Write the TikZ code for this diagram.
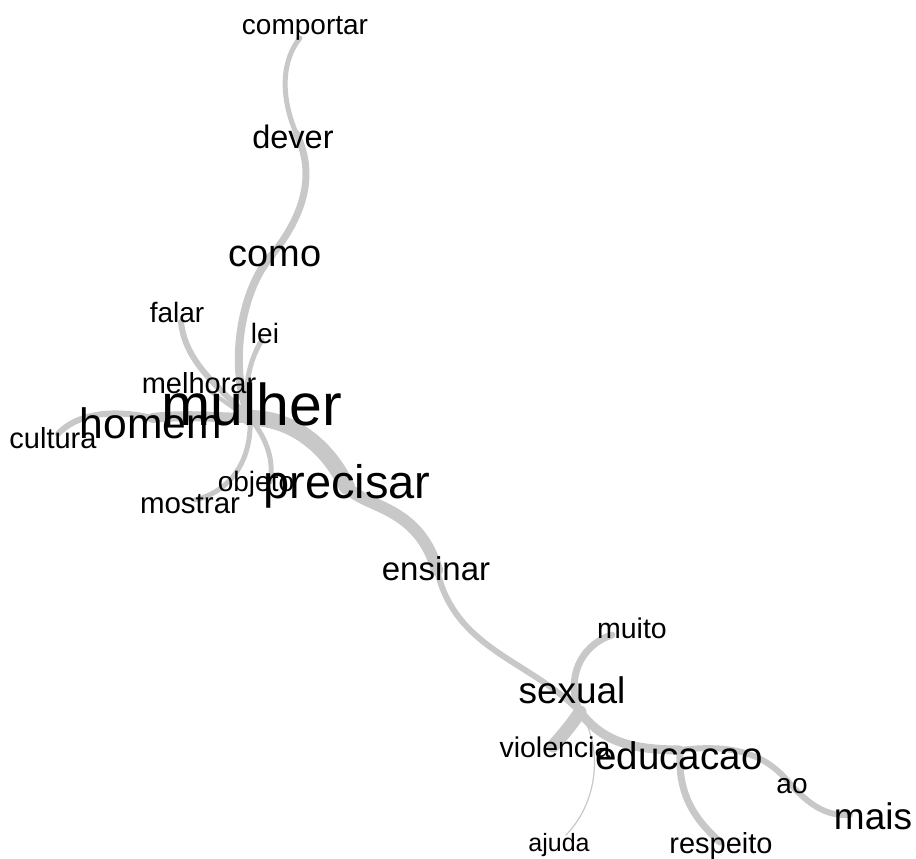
\documentclass[tikz,border=0pt]{standalone}
\usepackage{fontspec}
\setmainfont{Liberation Sans}
\definecolor{edgegray}{RGB}{200,200,200}
\tikzset{
  word/.style={font=\fontsize{#1}{#1}\selectfont, anchor=base, inner sep=0pt, text=black},
  link/.style={draw=edgegray, line width=#1pt, line cap=round}
}
\begin{document}
\begin{tikzpicture}[x=1pt,y=-1pt]
\useasboundingbox (0,0) rectangle (916,859);
% vertex points
\coordinate (c-comportar) at (300,38);
\coordinate (c-dever) at (296,133);
\coordinate (c-como) at (272,255);
\coordinate (c-falar) at (181,322);
\coordinate (c-lei) at (262,340);
\coordinate (c-melhorar) at (208,390);
\coordinate (c-mulher) at (250,418);
\coordinate (c-homem) at (152,418);
\coordinate (c-cultura) at (58,434);
\coordinate (c-objeto) at (270,482);
\coordinate (c-mostrar) at (195,500);
\coordinate (c-precisar) at (347,487);
\coordinate (c-ensinar) at (437,570);
\coordinate (c-muito) at (612,635);
\coordinate (c-sexual) at (580,712);
\coordinate (c-violencia) at (553,746);
\coordinate (c-ajuda) at (566,835);
\coordinate (c-educacao) at (680,750);
\coordinate (c-respeito) at (720,842);
\coordinate (c-ao) at (790,784);
\coordinate (c-mais) at (850,815);
% connectors
\draw[link=5] (c-comportar) .. controls (282,60) and (280,95) .. (c-dever);
\draw[link=7] (c-dever) .. controls (312,165) and (312,205) .. (c-como);
\draw[link=8] (c-como) .. controls (240,290) and (228,370) .. (c-mulher);
\draw[link=5] (c-lei) .. controls (248,362) and (243,392) .. (c-mulher);
\draw[link=6] (c-falar) .. controls (185,360) and (215,385) .. (c-mulher);
\draw[link=4] (c-melhorar) .. controls (220,398) and (235,410) .. (c-mulher);
\draw[link=6] (c-cultura) .. controls (75,415) and (110,408) .. (c-homem);
\draw[link=10] (c-homem) .. controls (190,414) and (220,418) .. (c-mulher);
\draw[link=5] (c-mulher) .. controls (252,455) and (235,490) .. (c-mostrar);
\draw[link=5] (c-mulher) .. controls (268,440) and (274,462) .. (c-objeto);
\draw[link=16] (c-mulher) .. controls (295,418) and (330,450) .. (c-precisar);
\draw[link=12] (c-precisar) .. controls (365,508) and (418,505) .. (c-ensinar);
\draw[link=6] (c-ensinar) .. controls (455,650) and (530,660) .. (c-sexual);
\draw[link=7] (c-sexual) .. controls (565,680) and (580,645) .. (c-muito);
\draw[link=13] (c-sexual) .. controls (572,724) and (563,735) .. (c-violencia);
\draw[link=1.2] (c-sexual) .. controls (602,745) and (600,800) .. (c-ajuda);
\draw[link=9] (c-sexual) .. controls (600,738) and (625,750) .. (c-educacao);
\draw[link=7] (c-educacao) .. controls (678,790) and (690,815) .. (c-respeito);
\draw[link=6] (c-educacao) .. controls (730,744) and (765,752) .. (c-ao);
\draw[link=6] (c-ao) .. controls (810,805) and (825,816) .. (c-mais);
% words
\node[word=28] (comportar) at (305,35) {comportar};
\node[word=32.5] (dever) at (293,148) {dever};
\node[word=38] (como) at (275,266) {como};
\node[word=28] (falar) at (177,322) {falar};
\node[word=28] (lei) at (265,343) {lei};
\node[word=29] (melhorar) at (199,393) {melhorar};
\node[word=29] (cultura) at (53,448) {cultura};
\node[word=42.6] (homem) at (151,438) {homem};
\node[word=59] (mulher) at (252,425) {mulher};
\node[word=28] (objeto) at (256,491) {objeto};
\node[word=29.5] (mostrar) at (190,513) {mostrar};
\node[word=47] (precisar) at (347,498) {precisar};
\node[word=33] (ensinar) at (436,580) {ensinar};
\node[word=28.5] (muito) at (632,638) {muito};
\node[word=37] (sexual) at (572,703) {sexual};
\node[word=28.5] (violencia) at (555,757) {violencia};
\node[word=38.5] (educacao) at (679,769) {educacao};
\node[word=28] (ao) at (792,793) {ao};
\node[word=37] (mais) at (873,829) {mais};
\node[word=25] (ajuda) at (559,851) {ajuda};
\node[word=29] (respeito) at (721,853) {respeito};
\end{tikzpicture}
\end{document}
